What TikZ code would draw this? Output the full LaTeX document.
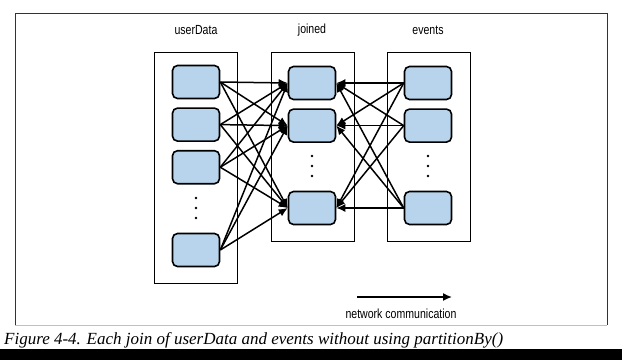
\documentclass[tikz,border=0pt]{standalone}
\usepackage{fontspec}
\setmainfont{Liberation Serif}
\newfontfamily\condsans[FakeStretch=0.8]{Liberation Sans}
\usetikzlibrary{arrows.meta,positioning}
\definecolor{partblue}{HTML}{B7D4EC}

\begin{document}
\begin{tikzpicture}[x=1pt, y=-1pt, node distance=8pt, >={Latex[length=9pt,width=8pt]},
      part/.style={draw, line width=1.6pt, rounded corners=5pt, fill=partblue, minimum width=47pt, minimum height=33pt, inner sep=0pt},
      group/.style={draw, line width=1pt},
      link/.style={->, line width=1.5pt},
      title/.style={font=\condsans\fontsize{13.2}{15}\selectfont, inner sep=0pt}]
    \useasboundingbox (0,0) rectangle (622,360);
    % page frame and bottom bar
    \draw[line width=1pt, black!80] (15,325) -- (15,13) -- (607,13) -- (607,325);
    \draw[line width=1pt, black!25] (15,325) -- (607,325);
    \fill[black] (0,349) rectangle (622,360);
    % groups
    \draw[group] (154,52) rectangle (237,283);
    \draw[group] (271,52) rectangle (354,241);
    \draw[group] (387,52) rectangle (470,241);
    \node[title] (userTitle) at (196,30) {userData};
    \node[title] (joinTitle) at (312,30) {joined};
    \node[title] (eventTitle) at (428,30) {events};
    % partitions
    \node[part] (u1) at (196,82) {};
    \node[part, below=of u1] (u2) {};
    \node[part, below=of u2] (u3) {};
    \node[part] (u4) at (196,250) {};
    \node[part] (j1) at (312,83) {};
    \node[part, below=of j1] (j2) {};
    \node[part] (j3) at (312,208) {};
    \node[part] (e1) at (428,83) {};
    \node[part, below=of e1] (e2) {};
    \node[part] (e3) at (428,208) {};
    \fill (196,198) circle (1.3pt) (196,208) circle (1.3pt) (196,218) circle (1.3pt);
    \fill (312,156) circle (1.3pt) (312,166) circle (1.3pt) (312,176) circle (1.3pt);
    \fill (428,156) circle (1.3pt) (428,166) circle (1.3pt) (428,176) circle (1.3pt);
    % userData -> joined
    \draw[link] (u1.east) -- (j1.west);
    \draw[link] (u1.east) -- (j2.west);
    \draw[link] (u1.east) -- (j3.west);
    \draw[link] (u2.east) -- (j1.west);
    \draw[link] (u2.east) -- (j2.west);
    \draw[link] (u2.east) -- (j3.west);
    \draw[link] (u3.east) -- (j1.west);
    \draw[link] (u3.east) -- (j2.west);
    \draw[link] (u3.east) -- (j3.west);
    \draw[link] (u4.east) -- (j1.west);
    \draw[link] (u4.east) -- (j2.west);
    \draw[link] (u4.east) -- (j3.west);
    % events -> joined
    \draw[link] (e1.west) -- (j1.east);
    \draw[link] (e1.west) -- (j2.east);
    \draw[link] (e1.west) -- (j3.east);
    \draw[link] (e2.west) -- (j1.east);
    \draw[link] (e2.west) -- (j2.east);
    \draw[link] (e2.west) -- (j3.east);
    \draw[link] (e3.west) -- (j1.east);
    \draw[link] (e3.west) -- (j2.east);
    \draw[link] (e3.west) -- (j3.east);
    % legend
    \coordinate (legA) at (357,297);
    \coordinate (legB) at (452,297);
    \draw[link] (legA) -- (legB);
    \node[title] (legText) at (401,314) {network communication};
    % caption
    \node[anchor=west, inner sep=0pt, font=\itshape\fontsize{17}{20}\selectfont] (caption) at (4,340)
      {Figure 4-4. Each join of userData and events without using partitionBy()};
  \end{tikzpicture}
\end{document}
